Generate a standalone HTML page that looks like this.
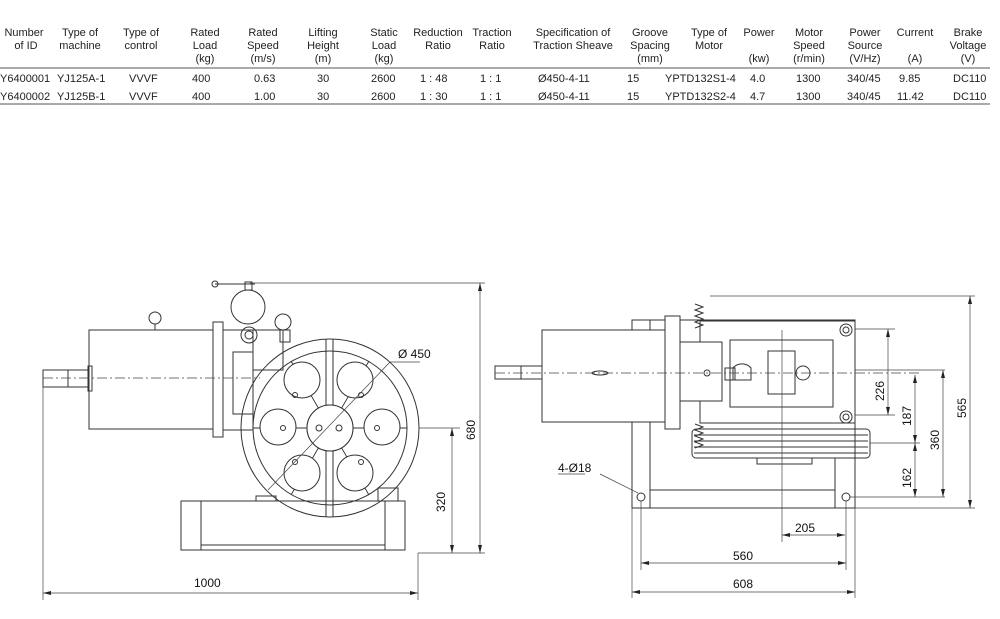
<!DOCTYPE html>
<html><head><meta charset="utf-8"><style>
body{margin:0;background:#fff;width:1000px;height:619px;overflow:hidden}
svg{display:block}
text{font-family:"Liberation Sans",sans-serif;font-size:11px;fill:#222}
.t{font-size:10.5px}
.d{font-size:12px;fill:#111}
</style></head><body>
<svg width="1000" height="619" viewBox="0 0 1000 619">
<g class="t" text-anchor="middle">
<text x="24" y="36">Number</text><text x="26" y="49">of ID</text>
<text x="80" y="36">Type of</text><text x="80" y="49">machine</text>
<text x="141" y="36">Type of</text><text x="141" y="49">control</text>
<text x="205" y="36">Rated</text><text x="205" y="49">Load</text><text x="205" y="62">(kg)</text>
<text x="263" y="36">Rated</text><text x="263" y="49">Speed</text><text x="263" y="62">(m/s)</text>
<text x="323" y="36">Lifting</text><text x="323" y="49">Height</text><text x="323" y="62">(m)</text>
<text x="384" y="36">Static</text><text x="384" y="49">Load</text><text x="384" y="62">(kg)</text>
<text x="438" y="36">Reduction</text><text x="438" y="49">Ratio</text>
<text x="492" y="36">Traction</text><text x="492" y="49">Ratio</text>
<text x="573" y="36">Specification of</text><text x="573" y="49">Traction Sheave</text>
<text x="650" y="36">Groove</text><text x="650" y="49">Spacing</text><text x="650" y="62">(mm)</text>
<text x="709" y="36">Type of</text><text x="709" y="49">Motor</text>
<text x="759" y="36">Power</text><text x="759" y="62">(kw)</text>
<text x="809" y="36">Motor</text><text x="809" y="49">Speed</text><text x="809" y="62">(r/min)</text>
<text x="865" y="36">Power</text><text x="865" y="49">Source</text><text x="865" y="62">(V/Hz)</text>
<text x="915" y="36">Current</text><text x="915" y="62">(A)</text>
<text x="968" y="36">Brake</text><text x="968" y="49">Voltage</text><text x="968" y="62">(V)</text>
</g>
<line x1="0" y1="68" x2="990" y2="68" stroke="#555" stroke-width="1"/>
<line x1="0" y1="104" x2="990" y2="104" stroke="#555" stroke-width="1"/>
<g class="t">
<text x="0" y="82">Y6400001</text><text x="57" y="82">YJ125A-1</text><text x="129" y="82">VVVF</text><text x="192" y="82">400</text><text x="254" y="82">0.63</text><text x="317" y="82">30</text><text x="371" y="82">2600</text><text x="420" y="82">1 : 48</text><text x="480" y="82">1 : 1</text><text x="538" y="82">Ø450-4-11</text><text x="627" y="82">15</text><text x="665" y="82">YPTD132S1-4</text><text x="750" y="82">4.0</text><text x="796" y="82">1300</text><text x="847" y="82">340/45</text><text x="899" y="82">9.85</text><text x="953" y="82">DC110</text>
<text x="0" y="100">Y6400002</text><text x="57" y="100">YJ125B-1</text><text x="129" y="100">VVVF</text><text x="192" y="100">400</text><text x="254" y="100">1.00</text><text x="317" y="100">30</text><text x="371" y="100">2600</text><text x="420" y="100">1 : 30</text><text x="480" y="100">1 : 1</text><text x="538" y="100">Ø450-4-11</text><text x="627" y="100">15</text><text x="665" y="100">YPTD132S2-4</text><text x="750" y="100">4.7</text><text x="796" y="100">1300</text><text x="847" y="100">340/45</text><text x="897" y="100">11.42</text><text x="953" y="100">DC110</text>
</g>

<!-- LEFT VIEW -->
<g fill="none" stroke="#333" stroke-width="1">
<rect x="43" y="370" width="46" height="17"/><line x1="68" y1="370" x2="68" y2="387"/>
<rect x="88" y="366" width="4" height="25"/>
<rect x="89" y="330" width="124" height="99"/>
<circle cx="155" cy="318" r="6"/><line x1="155" y1="324" x2="155" y2="330"/>
<rect x="213" y="322" width="10" height="115"/>
<rect x="223" y="330" width="30" height="100"/>
<rect x="233" y="352" width="20" height="62"/>
<rect x="253" y="330" width="30" height="40"/>
<circle cx="248" cy="307" r="17"/>
<circle cx="249" cy="335" r="8"/><circle cx="249" cy="335" r="4"/>
<line x1="215" y1="284" x2="255" y2="284"/><circle cx="215" cy="284" r="3"/>
<rect x="245" y="282" width="7" height="8"/>
<circle cx="283" cy="322" r="8"/>
<rect x="280" y="330" width="10" height="12"/>
<circle cx="330" cy="428" r="89"/>
<circle cx="330" cy="428" r="77"/>
<circle cx="330" cy="428" r="23"/>
<line x1="326" y1="339" x2="326" y2="517"/><line x1="333" y1="339" x2="333" y2="517"/>
<g stroke-width="0.9">
<line x1="253" y1="428" x2="407" y2="428"/>
<line x1="291" y1="361" x2="369" y2="495"/><line x1="369" y1="361" x2="291" y2="495"/>
</g>
<circle cx="302" cy="380" r="18" fill="#fff"/><circle cx="355" cy="380" r="18" fill="#fff"/>
<circle cx="278" cy="427" r="18" fill="#fff"/><circle cx="382" cy="427" r="18" fill="#fff"/>
<circle cx="302" cy="473" r="18" fill="#fff"/><circle cx="355" cy="473" r="18" fill="#fff"/>
<circle cx="330" cy="428" r="23" fill="#fff"/>
<circle cx="319" cy="428" r="3"/><circle cx="339" cy="428" r="3"/>
<circle cx="295" cy="395" r="2.5"/><circle cx="361" cy="395" r="2.5"/>
<circle cx="283" cy="428" r="2.5"/><circle cx="377" cy="428" r="2.5"/>
<circle cx="295" cy="462" r="2.5"/><circle cx="361" cy="462" r="2.5"/>
<rect x="181" y="501" width="224" height="49"/>
<rect x="181" y="501" width="20" height="49"/><rect x="385" y="501" width="20" height="49"/>
<line x1="201" y1="545" x2="385" y2="545"/>
<rect x="256" y="496" width="20" height="5"/><rect x="378" y="488" width="20" height="13"/>
</g>
<g stroke="#444" stroke-width="0.7" fill="none">
<line x1="43" y1="378" x2="260" y2="378" stroke-dasharray="10 3 2 3"/>
<line x1="419" y1="428" x2="460" y2="428"/>
<line x1="250" y1="283" x2="485" y2="283"/>
<line x1="418" y1="553" x2="485" y2="553"/>
<line x1="43" y1="385" x2="43" y2="600"/>
<line x1="418" y1="553" x2="418" y2="600"/>
<line x1="43" y1="593" x2="418" y2="593"/>
<line x1="480" y1="283" x2="480" y2="553"/>
<line x1="452" y1="428" x2="452" y2="553"/>
<line x1="268" y1="490" x2="390" y2="362"/><line x1="390" y1="362" x2="420" y2="362"/>
</g>
<g fill="#222">
<path d="M43 593l8-2v4z"/><path d="M418 593l-8-2v4z"/>
<path d="M480 283l-2 8h4z"/><path d="M480 553l-2-8h4z"/>
<path d="M452 428l-2 8h4z"/><path d="M452 553l-2-8h4z"/>
</g>
<text class="d" x="194" y="587">1000</text>
<text class="d" x="398" y="358">Ø 450</text>
<text class="d" transform="translate(475,440) rotate(-90)">680</text>
<text class="d" transform="translate(445,512) rotate(-90)">320</text>

<!-- RIGHT VIEW -->
<g fill="none" stroke="#333" stroke-width="1">
<rect x="632" y="320" width="223" height="188"/>
<line x1="650" y1="320" x2="650" y2="508"/><line x1="835" y1="458" x2="835" y2="508"/>
<line x1="650" y1="490" x2="835" y2="490"/>
<rect x="495" y="366" width="47" height="13"/><line x1="521" y1="366" x2="521" y2="379"/>
<rect x="542" y="330" width="123" height="92" fill="#fff"/>
<rect x="665" y="316" width="15" height="113" fill="#fff"/>
<rect x="700" y="321" width="155" height="102" fill="#fff"/>
<rect x="680" y="342" width="42" height="59" fill="#fff"/>
<rect x="730" y="340" width="103" height="67"/>
<rect x="768" y="351" width="27" height="43"/>
<circle cx="803" cy="373" r="7"/>
<path d="M725 368h10v12h-10z"/>
<path d="M733 368a12 12 0 0 1 18 0v12h-18z"/>
<circle cx="846" cy="330" r="6"/><circle cx="846" cy="330" r="3"/>
<circle cx="846" cy="417" r="6"/><circle cx="846" cy="417" r="3"/>
<rect x="692" y="429" width="178" height="29" rx="4"/>
<line x1="694" y1="435" x2="868" y2="435"/><line x1="694" y1="441" x2="868" y2="441"/>
<line x1="694" y1="447" x2="868" y2="447"/><line x1="694" y1="453" x2="868" y2="453"/>
<rect x="757" y="458" width="55" height="6"/>
<path d="M695 304 l8 3 -8 3 8 3 -8 3 8 3 -8 3 8 3 -8 3"/>
<path d="M695 424 l8 3 -8 3 8 3 -8 3 8 3 -8 3 8 3 -8 3"/>
<circle cx="641" cy="497" r="4"/><circle cx="846" cy="497" r="4"/>
<ellipse cx="600" cy="373" rx="8" ry="2"/>
<circle cx="707" cy="373" r="3"/>
</g>
<g stroke="#444" stroke-width="0.7" fill="none">
<line x1="495" y1="373" x2="920" y2="373" stroke-dasharray="10 3 2 3"/>
<line x1="782" y1="330" x2="782" y2="542"/>
<line x1="710" y1="296" x2="975" y2="296"/>
<line x1="855" y1="508" x2="975" y2="508"/>
<line x1="855" y1="329" x2="895" y2="329"/><line x1="855" y1="415" x2="895" y2="415"/>
<line x1="855" y1="370" x2="945" y2="370"/>
<line x1="870" y1="443" x2="920" y2="443"/>
<line x1="850" y1="497" x2="945" y2="497"/>
<line x1="970" y1="296" x2="970" y2="508"/>
<line x1="943" y1="370" x2="943" y2="497"/>
<line x1="915" y1="375" x2="915" y2="497"/>
<line x1="888" y1="329" x2="888" y2="415"/>
<line x1="632" y1="508" x2="632" y2="598"/><line x1="855" y1="508" x2="855" y2="598"/>
<line x1="641" y1="501" x2="641" y2="570"/><line x1="846" y1="501" x2="846" y2="570"/>
<line x1="782" y1="535" x2="845" y2="535"/>
<line x1="641" y1="563" x2="846" y2="563"/>
<line x1="632" y1="592" x2="855" y2="592"/>
<line x1="558" y1="474" x2="585" y2="474"/><line x1="600" y1="474" x2="638" y2="493"/>
</g>
<g fill="#222">
<path d="M970 296l-2 8h4z"/><path d="M970 508l-2-8h4z"/>
<path d="M943 370l-2 8h4z"/><path d="M943 497l-2-8h4z"/>
<path d="M915 375l-2 8h4z"/><path d="M915 443l-2-8h4z"/><path d="M915 443l-2 8h4z"/><path d="M915 497l-2-8h4z"/>
<path d="M888 329l-2 8h4z"/><path d="M888 415l-2-8h4z"/>
<path d="M782 535l8-2v4z"/><path d="M845 535l-8-2v4z"/>
<path d="M641 563l8-2v4z"/><path d="M846 563l-8-2v4z"/>
<path d="M632 592l8-2v4z"/><path d="M855 592l-8-2v4z"/>
</g>
<text class="d" x="795" y="532">205</text>
<text class="d" x="733" y="560">560</text>
<text class="d" x="733" y="588">608</text>
<text class="d" x="558" y="472">4-Ø18</text>
<text class="d" transform="translate(884,401) rotate(-90)">226</text>
<text class="d" transform="translate(911,426) rotate(-90)">187</text>
<text class="d" transform="translate(911,488) rotate(-90)">162</text>
<text class="d" transform="translate(939,450) rotate(-90)">360</text>
<text class="d" transform="translate(966,418) rotate(-90)">565</text>
</svg>
</body></html>
